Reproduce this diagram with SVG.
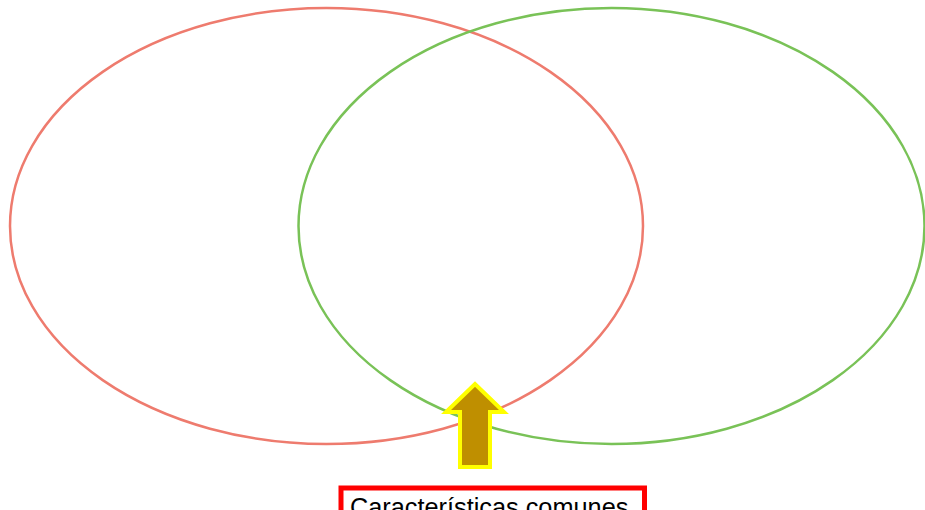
<svg xmlns="http://www.w3.org/2000/svg" width="925" height="510" viewBox="0 0 925 510">
<style>
.e{fill:none;stroke-width:2.5}
.t{font-family:"Liberation Sans",Arial,sans-serif;font-size:25.3px;fill:#000}
</style>
<rect width="925" height="510" fill="#fff"/>
<g id="left"><ellipse class="e" cx="326.5" cy="226" rx="316.5" ry="218" stroke="#EE7B6E"/></g>
<g id="right"><ellipse class="e" cx="611.5" cy="226" rx="313" ry="218" stroke="#79C257"/></g>
<g id="connectors">
<polygon points="460,467 490,467 490,412 504,412 475,384 446,412 460,412" fill="#BF8F00" stroke="#FFFF00" stroke-width="4" stroke-linejoin="miter"/>
</g>
<g id="label">
<rect x="341" y="488" width="303.5" height="40" fill="#fff" stroke="#FF0000" stroke-width="5"/>
<text class="t" x="350" y="516">Características comunes</text>
</g>
</svg>
